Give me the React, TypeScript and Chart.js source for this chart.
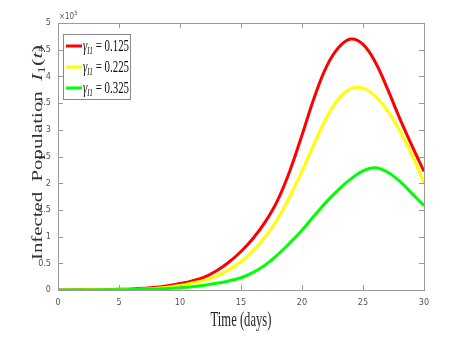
import React, { useEffect, useRef } from 'react';
import { Chart, registerables } from 'chart.js';

Chart.register(...registerables);

const days = [0,1,2,3,4,5,6,7,8,9,10,11,12,13,14,15,16,17,18,19,20,21,22,23,24,25,26,27,28,29,30];
// values in units of 10^5
const gamma0125 = [0.001,0.002,0.003,0.005,0.008,0.013,0.02,0.032,0.05,0.08,0.12,0.17,0.24,0.36,0.52,0.72,0.97,1.28,1.68,2.23,2.90,3.60,4.18,4.54,4.70,4.60,4.27,3.77,3.22,2.71,2.22];
const gamma0225 = [0.001,0.0015,0.002,0.003,0.005,0.008,0.012,0.019,0.03,0.05,0.085,0.13,0.18,0.26,0.38,0.53,0.74,1.0,1.33,1.75,2.22,2.74,3.22,3.58,3.77,3.78,3.63,3.36,2.99,2.54,2.0];
const gamma0325 = [0.001,0.001,0.0015,0.002,0.003,0.005,0.008,0.012,0.018,0.027,0.04,0.06,0.09,0.125,0.17,0.23,0.33,0.47,0.66,0.88,1.12,1.39,1.65,1.88,2.08,2.23,2.29,2.21,2.04,1.81,1.58];

const seriesLabels = ['0.125', '0.225', '0.325'];
const seriesColors = ['#ff0000', '#ffff00', '#00ff00'];
const xTicks = [0, 5, 10, 15, 20, 25, 30];
const yTicks = [0, 0.5, 1, 1.5, 2, 2.5, 3, 3.5, 4, 4.5, 5];

const SERIF = "'Liberation Serif', 'DejaVu Serif', serif";
const NARROW = "'Liberation Sans Narrow', 'DejaVu Sans Condensed', 'Liberation Sans', sans-serif";

const decorPlugin = {
  id: 'decor',
  afterDraw(chart: any) {
    const ctx: CanvasRenderingContext2D = chart.ctx;
    const { left, right, top, bottom } = chart.chartArea;
    const xs = chart.scales.x;
    const ys = chart.scales.y;
    ctx.save();
    // box
    ctx.strokeStyle = '#9a9a9a';
    ctx.lineWidth = 1;
    ctx.strokeRect(Math.round(left) + 0.5, Math.round(top) + 0.5, Math.round(right - left), Math.round(bottom - top));
    // inner ticks
    ctx.beginPath();
    const tl = 5;
    xTicks.forEach((v) => {
      const px = Math.round(xs.getPixelForValue(v)) + 0.5;
      ctx.moveTo(px, bottom); ctx.lineTo(px, bottom - tl);
      ctx.moveTo(px, top); ctx.lineTo(px, top + tl);
    });
    yTicks.forEach((v) => {
      const py = Math.round(ys.getPixelForValue(v)) + 0.5;
      ctx.moveTo(left, py); ctx.lineTo(left + tl, py);
      ctx.moveTo(right, py); ctx.lineTo(right - tl, py);
    });
    ctx.stroke();

    // exponent label
    ctx.fillStyle = '#555';
    ctx.textBaseline = 'alphabetic';
    ctx.textAlign = 'left';
    ctx.font = `8px ${NARROW}`;
    ctx.fillText('×10', left + 1, top - 4);
    const w10 = ctx.measureText('×10').width;
    ctx.font = `6px ${NARROW}`;
    ctx.fillText('5', left + 1 + w10, top - 8);

    // x title
    ctx.fillStyle = '#222';
    ctx.save();
    ctx.font = `21px ${SERIF}`;
    ctx.translate((left + right) / 2, 326);
    ctx.scale(0.6, 1);
    ctx.textAlign = 'center';
    ctx.fillText('Time (days)', 0, 0);
    ctx.restore();

    // y title (rotated)
    ctx.save();
    ctx.fillStyle = '#333';
    const parts: [string, string, number][] = [
      ['Infected  Population  ', `14px ${SERIF}`, 0],
      ['I', `italic 15px ${SERIF}`, 0],
      ['1', `10px ${SERIF}`, 3],
      ['(', `15px ${SERIF}`, 0],
      ['t', `italic 15px ${SERIF}`, 0],
      [')', `15px ${SERIF}`, 0],
    ];
    let total = 0;
    parts.forEach(([t, f]) => { ctx.font = f; total += ctx.measureText(t).width; });
    const target = 215;
    ctx.translate(42, 152.5);
    ctx.rotate(-Math.PI / 2);
    ctx.scale(target / total, 1);
    ctx.textAlign = 'left';
    let cx = -total / 2;
    parts.forEach(([t, f, dy]) => {
      ctx.font = f;
      ctx.fillText(t, cx, dy);
      cx += ctx.measureText(t).width;
    });
    ctx.restore();

    // legend
    const lx = 63.5, ly = 34.5, lw = 67, lh = 65;
    ctx.fillStyle = '#ffffff';
    ctx.fillRect(lx, ly, lw, lh);
    ctx.strokeStyle = '#888';
    ctx.lineWidth = 1;
    ctx.strokeRect(lx, ly, lw, lh);
    const rows = [46, 67, 88];
    seriesLabels.forEach((lab, i) => {
      const yc = rows[i];
      ctx.strokeStyle = seriesColors[i];
      ctx.lineWidth = 3;
      ctx.beginPath();
      ctx.moveTo(66, yc);
      ctx.lineTo(82, yc);
      ctx.stroke();
      ctx.save();
      ctx.fillStyle = '#111';
      ctx.translate(83, yc + 5);
      ctx.scale(0.68, 1);
      let tx = 0;
      ctx.font = `italic 16px ${SERIF}`;
      ctx.fillText('γ', tx, 0);
      tx += ctx.measureText('γ').width;
      ctx.font = `italic 10px ${SERIF}`;
      ctx.fillText('I1', tx, 3);
      tx += ctx.measureText('I1').width;
      ctx.font = `16px ${SERIF}`;
      ctx.fillText(' = ' + lab, tx, 0);
      ctx.restore();
    });
    ctx.restore();
  },
};

export default function App() {
  const ref = useRef<HTMLCanvasElement | null>(null);
  useEffect(() => {
    if (!ref.current) return;
    const mk = (data: number[], i: number, order: number) => ({
      label: seriesLabels[i],
      data: days.map((d, k) => ({ x: d, y: data[k] })),
      borderColor: seriesColors[i],
      backgroundColor: seriesColors[i],
      borderWidth: 3,
      pointRadius: 0,
      tension: 0.4,
      fill: false,
      order,
    });
    const chart = new Chart(ref.current, {
      type: 'line',
      data: {
        datasets: [mk(gamma0125, 0, 3), mk(gamma0225, 1, 2), mk(gamma0325, 2, 1)],
      },
      options: {
        animation: false,
        responsive: false,
        devicePixelRatio: 1,
        layout: { padding: { left: 0, top: 23, right: 48, bottom: 0 } },
        plugins: { legend: { display: false }, tooltip: { enabled: false } },
        scales: {
          x: {
            type: 'linear',
            min: 0,
            max: 30,
            afterFit: (s: any) => { s.height = 66; },
            afterBuildTicks: (s: any) => { s.ticks = xTicks.map((v) => ({ value: v })); },
            grid: { display: false, drawTicks: false },
            border: { display: false },
            ticks: { padding: 7, color: '#555', font: { family: NARROW, size: 9 }, maxRotation: 0 },
          },
          y: {
            type: 'linear',
            min: 0,
            max: 5,
            afterFit: (s: any) => { s.width = 58; },
            afterBuildTicks: (s: any) => { s.ticks = yTicks.map((v) => ({ value: v })); },
            grid: { display: false, drawTicks: false },
            border: { display: false },
            ticks: { padding: 7, color: '#555', font: { family: NARROW, size: 9 }, callback: (v: any) => String(v) },
          },
        },
      },
      plugins: [decorPlugin],
    });
    return () => chart.destroy();
  }, []);
  return (
    <div style={{ position: 'absolute', left: 0, top: 0, width: 472, height: 356, background: '#fff' }}>
      <canvas ref={ref} width={472} height={356} />
    </div>
  );
}
